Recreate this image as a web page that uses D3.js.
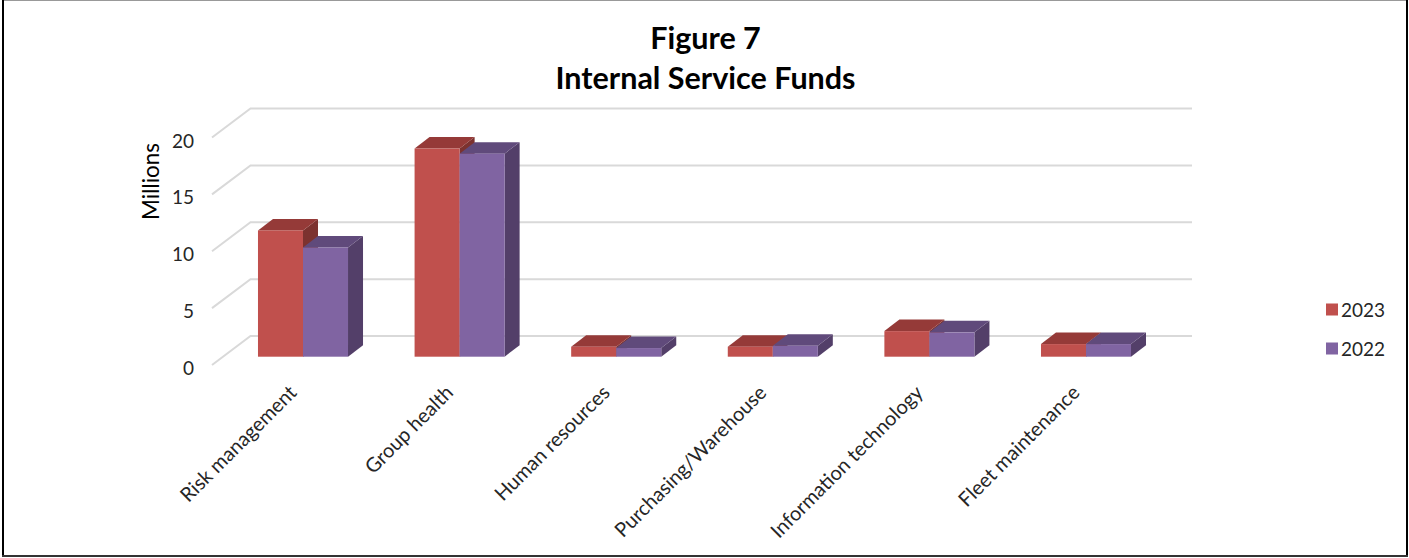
<!DOCTYPE html>
<html>
<head>
<meta charset="utf-8">
<script src="https://cdn.jsdelivr.net/npm/d3@7"></script>
<style>
  html, body { margin: 0; padding: 0; background: #fff; }
  svg { display: block; }
  text { font-family: Lato, "Open Sans", sans-serif; fill: #262626; }
</style>
</head>
<body>
<script>
// Values, in millions
const categories = ['Risk management', 'Group health', 'Human resources',
  'Purchasing/Warehouse', 'Information technology', 'Fleet maintenance'];
const seriesNames = ['2023', '2022'];
const values2023 = [11.1, 18.3, 0.88, 0.88, 2.25, 1.11];
const values2022 = [9.6, 17.85, 0.76, 0.96, 2.14, 1.11];
const yTicks = [0, 5, 10, 15, 20];
const titleLines = ['Figure 7', 'Internal Service Funds'];

const width = 1409, height = 558;

const colors = {
  '2023': { front: '#c0504d', top: '#953a38', side: '#7c322f' },
  '2022': { front: '#8064a2', top: '#604a7b', side: '#533f69' }
};

const svg = d3.select('body')
  .append('svg')
  .attr('width', width)
  .attr('height', height);

// Picture frame: grey along the top, dark on the other three sides
svg.append('rect').attr('x', 2).attr('y', 0)
  .attr('width', width - 3).attr('height', 1).attr('fill', '#999');
svg.append('rect').attr('x', 2).attr('y', 0)
  .attr('width', 2).attr('height', height - 1).attr('fill', '#000');
svg.append('rect').attr('x', width - 3).attr('y', 0)
  .attr('width', 2).attr('height', height - 1).attr('fill', '#000');
svg.append('rect').attr('x', 2).attr('y', height - 3)
  .attr('width', width - 3).attr('height', 2).attr('fill', '#333');

// Title
svg.append('g').selectAll('text')
  .data(titleLines)
  .enter()
  .append('text')
  .attr('x', 705.5)
  .attr('y', (d, i) => 49 + i * 40)
  .attr('text-anchor', 'middle')
  .style('font-size', '30.5px')
  .style('font-weight', 700)
  .style('fill', '#000')
  .text(d => d);

// Scales. The y scale is for the front of the box
const yFront = d3.scaleLinear().domain([0, 20]).range([365, 137.5]);
const wallDx = 38.5, wallDy = -29;   // how far the back wall sits behind the ticks
const barDx = 15, barDy = -11.5;     // depth of one bar
const barShift = -8.3;               // bars stand in front of the tick baseline

const xScale = d3.scaleBand()
  .domain(categories)
  .range([224.7, 1164.3])
  .paddingInner(0.425)
  .paddingOuter(0.2125);

const xSeries = d3.scaleBand()
  .domain(seriesNames)
  .range([0, xScale.bandwidth()]);

// Gridlines: a short diagonal, then along the back wall
const grid = svg.append('g')
  .attr('fill', 'none')
  .attr('stroke', '#d9d9d9')
  .attr('stroke-width', 2);

grid.selectAll('path')
  .data(yTicks)
  .enter()
  .append('path')
  .attr('d', d => {
    const x0 = 212, y0 = yFront(d);
    return `M${x0},${y0}L${x0 + wallDx},${y0 + wallDy}L1192,${y0 + wallDy}`;
  });

// Y axis, no line or tick marks
const yAxis = svg.append('g')
  .attr('transform', 'translate(197,0)')
  .call(d3.axisLeft(yFront).tickValues(yTicks).tickSize(0).tickPadding(3));
yAxis.select('.domain').remove();
yAxis.selectAll('text')
  .style('font-family', 'Lato, "Open Sans", sans-serif')
  .style('font-size', '19px')
  .attr('dy', '0.5em');

svg.append('text')
  .attr('transform', 'translate(159,181.5) rotate(-90)')
  .attr('text-anchor', 'middle')
  .style('font-size', '22.5px')
  .style('fill', '#000')
  .text('Millions');

// Bars, 2023 first: the 2022 box hides the side of the 2023 one
const rows = categories.flatMap((c, i) => [
  { cat: c, name: '2023', value: values2023[i] },
  { cat: c, name: '2022', value: values2022[i] }
]);

const bars = svg.append('g').selectAll('g')
  .data(rows)
  .enter()
  .append('g');

const left = d => xScale(d.cat) + xSeries(d.name);
const right = d => left(d) + xSeries.bandwidth();
const baseY = yFront(0) + barShift;
const topY = d => yFront(d.value) + barShift;

bars.append('path')
  .attr('fill', d => colors[d.name].side)
  .attr('d', d => `M${right(d)},${topY(d)}L${right(d) + barDx},${topY(d) + barDy}` +
    `L${right(d) + barDx},${baseY + barDy}L${right(d)},${baseY}Z`);

bars.append('path')
  .attr('fill', d => colors[d.name].top)
  .attr('d', d => `M${left(d)},${topY(d)}L${left(d) + barDx},${topY(d) + barDy}` +
    `L${right(d) + barDx},${topY(d) + barDy}L${right(d)},${topY(d)}Z`);

bars.append('rect')
  .attr('x', left)
  .attr('y', topY)
  .attr('width', xSeries.bandwidth())
  .attr('height', d => baseY - topY(d))
  .attr('fill', d => colors[d.name].front);

// Slanted category labels
svg.append('g').selectAll('text')
  .data(categories)
  .enter()
  .append('text')
  .attr('transform', d => `translate(${xScale(d) + 30},384) rotate(-45)`)
  .attr('text-anchor', 'end')
  .attr('dy', '0.7em')
  .style('font-size', '20px')
  .text(d => d);

// Legend
const legend = svg.append('g').selectAll('g')
  .data(seriesNames)
  .enter()
  .append('g')
  .attr('transform', (d, i) => `translate(1326,${310.5 + i * 39})`);

legend.append('rect')
  .attr('x', 0).attr('y', -7)
  .attr('width', 12).attr('height', 12)
  .attr('fill', d => colors[d].front);

legend.append('text')
  .attr('x', 15).attr('y', 6)
  .style('font-size', '19px')
  .text(d => d);
</script>
</body>
</html>
